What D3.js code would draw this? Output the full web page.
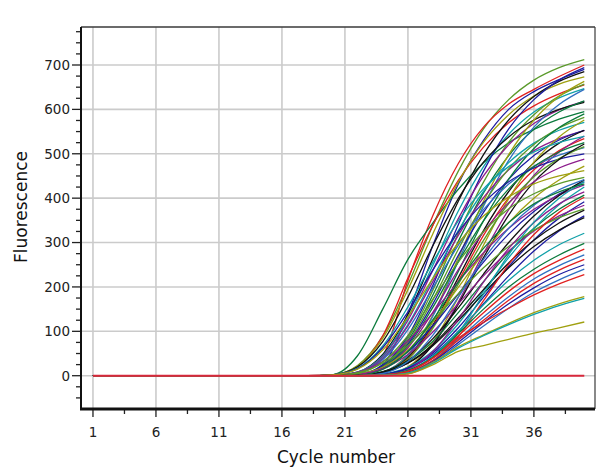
<!DOCTYPE html>
<html>
<head>
<meta charset="utf-8">
<script src="https://cdn.jsdelivr.net/npm/d3@7"></script>
<style>
  body { margin: 0; background: #fff; }
  svg { display: block; font-family: "DejaVu Sans", sans-serif; }
</style>
</head>
<body>
<svg width="598" height="467"></svg>
<script>
var svg = d3.select("svg"),
    width = +svg.attr("width"),
    height = +svg.attr("height");

var cycles = [20, 22, 24, 26, 28, 30, 32, 34, 36, 38, 40];
// all wells sit at zero before this
var baselineCycles = [1, 18];

// fluorescence per well, one row per curve (values at `cycles`)
var curves = [
  [2, 23, 89, 205, 340, 461, 556, 622, 666, 694, 712],
  [0, 6, 45, 215, 362, 478, 560, 612, 645, 674, 700],
  [0, 2, 25, 140, 295, 432, 530, 600, 640, 667, 690],
  [2, 45, 150, 262, 345, 420, 480, 525, 555, 578, 595],
  [1, 20, 90, 220, 340, 440, 515, 570, 608, 635, 655],
  [2, 21, 84, 194, 321, 436, 526, 588, 630, 657, 673],
  [0, 8, 48, 138, 265, 393, 498, 576, 629, 663, 685],
  [0, 8, 45, 131, 250, 371, 471, 544, 594, 626, 647],
  [0, 2, 21, 84, 194, 321, 436, 526, 588, 630, 657],
  [0, 2, 23, 89, 205, 340, 461, 556, 622, 666, 694],
  [0, 7, 43, 125, 239, 354, 450, 520, 568, 599, 618],
  [2, 20, 77, 177, 294, 399, 481, 538, 576, 600, 616],
  [0, 2, 20, 79, 183, 303, 412, 496, 555, 594, 619],
  [0, 0, 8, 48, 138, 265, 393, 498, 576, 629, 663],
  [0, 0, 8, 46, 135, 258, 382, 485, 560, 611, 645],
  [0, 7, 40, 115, 221, 327, 415, 480, 524, 553, 571],
  [0, 7, 38, 112, 213, 316, 401, 464, 507, 534, 552],
  [0, 2, 19, 75, 172, 285, 387, 466, 521, 558, 582],
  [0, 2, 18, 71, 163, 271, 368, 443, 496, 531, 553],
  [0, 0, 7, 42, 123, 235, 349, 443, 512, 559, 590],
  [0, 0, 7, 40, 115, 221, 327, 415, 480, 524, 553],
  [0, 0, 7, 38, 112, 213, 316, 401, 464, 507, 534],
  [0, 0, 2, 20, 77, 177, 294, 399, 481, 538, 576],
  [0, 0, 2, 18, 72, 166, 275, 374, 451, 504, 540],
  [2, 17, 67, 155, 257, 349, 421, 471, 504, 525, 539],
  [0, 6, 36, 104, 199, 294, 374, 432, 472, 497, 514],
  [0, 2, 17, 67, 155, 257, 349, 421, 471, 504, 525],
  [2, 16, 63, 144, 239, 324, 390, 437, 468, 488, 500],
  [0, 0, 6, 37, 108, 206, 305, 388, 448, 489, 516],
  [0, 0, 2, 18, 70, 161, 266, 362, 436, 487, 522],
  [0, 2, 16, 63, 144, 239, 324, 390, 437, 468, 488],
  [0, 4, 18, 54, 113, 184, 256, 319, 370, 409, 437],
  [0, 4, 19, 58, 122, 199, 276, 345, 400, 441, 472],
  [1, 8, 32, 78, 142, 212, 277, 332, 375, 407, 430],
  [0, 1, 9, 34, 84, 153, 229, 300, 360, 406, 441],
  [0, 1, 8, 32, 78, 142, 212, 277, 332, 375, 407],
  [0, 0, 4, 19, 56, 117, 191, 266, 332, 385, 425],
  [0, 0, 3, 17, 52, 108, 177, 246, 306, 355, 392],
  [0, 3, 16, 48, 99, 162, 225, 281, 326, 360, 384],
  [0, 1, 8, 29, 71, 130, 194, 254, 305, 344, 373],
  [0, 0, 3, 16, 48, 99, 162, 225, 281, 326, 360],
  [1, 7, 28, 68, 124, 185, 243, 291, 328, 356, 376],
  [0, 1, 7, 28, 68, 124, 185, 243, 291, 328, 356],
  [0, 0, 1, 14, 55, 127, 211, 287, 345, 387, 414],
  [0, 0, 0, 6, 33, 96, 184, 273, 346, 400, 437],
  [0, 0, 0, 5, 30, 88, 169, 251, 318, 368, 402],
  [0, 0, 5, 32, 92, 177, 262, 332, 384, 419, 442],
  [0, 5, 31, 90, 173, 256, 325, 376, 410, 433, 447],
  [0, 1, 14, 55, 127, 211, 287, 345, 387, 414, 432],
  [2, 15, 58, 133, 220, 299, 360, 403, 432, 450, 462],
  [0, 0, 2, 12, 45, 100, 160, 215, 260, 295, 321],
  [0, 0, 2, 12, 42, 95, 150, 200, 240, 272, 298],
  [0, 0, 2, 10, 40, 90, 142, 190, 230, 260, 285],
  [0, 0, 1, 8, 35, 82, 132, 178, 218, 248, 272],
  [0, 0, 1, 8, 35, 80, 125, 170, 208, 238, 262],
  [0, 0, 1, 7, 32, 75, 120, 162, 198, 228, 250],
  [0, 0, 1, 6, 30, 70, 112, 152, 188, 216, 240],
  [0, 0, 1, 10, 40, 85, 120, 152, 182, 207, 228],
  [0, 0, 1, 6, 30, 65, 92, 118, 142, 162, 178],
  [0, 0, 1, 6, 28, 62, 90, 115, 138, 158, 174],
  [0, 0, 0, 4, 25, 55, 68, 82, 96, 108, 121]
];

// the software's well colours
var palette = ["#5a9a2a", "#e02020", "#1c1ca0", "#10a0a8", "#111111",
               "#a0a010", "#8c1c8c", "#0a7a3c", "#2f6fc0"];
var curveColor = [0, 1, 2, 7, 1, 5, 4, 3, 0, 2, 6, 4, 7, 5, 8,
                  3, 6, 0, 2, 7, 4, 1, 5, 6, 3, 8, 7, 2, 0, 4, 6,
                  2, 5, 6, 4, 7, 3, 2, 6, 4, 2, 0, 4, 6, 3, 1, 8, 0, 7, 5,
                  3, 7, 1, 8, 1, 2, 8, 1, 5, 3, 5];

// no-template control, flat at zero
var ntcCycles = [1, 40];
var ntcValues = [0, 0];

var xTicks = [1, 6, 11, 16, 21, 26, 31, 36];
var xMinor = [3.5, 8.5, 13.5, 18.5, 23.5, 28.5, 33.5, 38.5];
var yTicks = [0, 100, 200, 300, 400, 500, 600, 700];
var yMinor = d3.range(-50, 790, 25).filter(function(v) { return v % 100 != 0; });

// plot box (note: `top` is taken by window, so prefix these)
var pLeft = 81, pRight = 595, pTop = 27, pBottom = 409;

var x = d3.scaleLinear().domain([0.05, 40.85]).range([pLeft, pRight]);
var y = d3.scaleLinear().domain([-75, 785.6]).range([pBottom, pTop]);

// grid
var grid = svg.append("g").attr("class", "grid");
grid.selectAll("line.v")
    .data(xTicks)
    .enter().append("line")
    .attr("class", "v")
    .attr("x1", function(d) { return x(d); })
    .attr("x2", function(d) { return x(d); })
    .attr("y1", pTop)
    .attr("y2", pBottom)
    .attr("stroke", "#cbcbcb")
    .attr("stroke-width", 1.6);
grid.selectAll("line.h")
    .data(yTicks)
    .enter().append("line")
    .attr("class", "h")
    .attr("x1", pLeft)
    .attr("x2", pRight)
    .attr("y1", function(d) { return y(d); })
    .attr("y2", function(d) { return y(d); })
    .attr("stroke", "#cbcbcb")
    .attr("stroke-width", 1.6);

// build the points of each curve
function toPoints(row) {
    var pts = baselineCycles.map(function(c) { return [c, 0]; });
    row.forEach(function(v, i) { pts.push([cycles[i], v]); });
    return pts;
}

var line = d3.line()
    .x(function(d) { return x(d[0]); })
    .y(function(d) { return y(d[1]); })
    .curve(d3.curveMonotoneX);

svg.append("g")
    .attr("class", "curves")
    .selectAll("path")
    .data(curves)
    .enter().append("path")
    .attr("d", function(d) { return line(toPoints(d)); })
    .attr("fill", "none")
    .attr("stroke", function(d, i) { return palette[curveColor[i]]; })
    .attr("stroke-width", 1.3);

// NTC on top
svg.append("path")
    .attr("d", line(ntcCycles.map(function(c, i) { return [c, ntcValues[i]]; })))
    .attr("fill", "none")
    .attr("stroke", "#d8283c")
    .attr("stroke-width", 2);

// frame
svg.append("line")
    .attr("x1", pLeft).attr("x2", pRight).attr("y1", pTop).attr("y2", pTop)
    .attr("stroke", "#3a3a3a").attr("stroke-width", 1.5);
svg.append("line")
    .attr("x1", pRight).attr("x2", pRight).attr("y1", pTop).attr("y2", pBottom)
    .attr("stroke", "#3a3a3a").attr("stroke-width", 1.2);

// y axis
var yAxis = svg.append("g").attr("class", "y-axis");
yAxis.selectAll("line.minor")
    .data(yMinor)
    .enter().append("line")
    .attr("class", "minor")
    .attr("x1", pLeft - 5).attr("x2", pLeft)
    .attr("y1", function(d) { return y(d); })
    .attr("y2", function(d) { return y(d); })
    .attr("stroke", "#222").attr("stroke-width", 1.3);
yAxis.selectAll("line.major")
    .data(yTicks)
    .enter().append("line")
    .attr("class", "major")
    .attr("x1", pLeft - 9).attr("x2", pLeft)
    .attr("y1", function(d) { return y(d); })
    .attr("y2", function(d) { return y(d); })
    .attr("stroke", "#222").attr("stroke-width", 1.3);
yAxis.selectAll("text")
    .data(yTicks)
    .enter().append("text")
    .attr("x", pLeft - 11)
    .attr("y", function(d) { return y(d); })
    .attr("dy", "0.36em")
    .attr("text-anchor", "end")
    .attr("font-size", 13.5)
    .attr("fill", "#222")
    .text(function(d) { return d; });
svg.append("line")
    .attr("x1", pLeft).attr("x2", pLeft).attr("y1", pTop).attr("y2", pBottom)
    .attr("stroke", "#111").attr("stroke-width", 2);

// x axis
var xAxis = svg.append("g").attr("class", "x-axis");
xAxis.selectAll("line.minor")
    .data(xMinor)
    .enter().append("line")
    .attr("class", "minor")
    .attr("x1", function(d) { return x(d); })
    .attr("x2", function(d) { return x(d); })
    .attr("y1", pBottom).attr("y2", pBottom + 5)
    .attr("stroke", "#222").attr("stroke-width", 1.3);
xAxis.selectAll("line.major")
    .data(xTicks)
    .enter().append("line")
    .attr("class", "major")
    .attr("x1", function(d) { return x(d); })
    .attr("x2", function(d) { return x(d); })
    .attr("y1", pBottom).attr("y2", pBottom + 8)
    .attr("stroke", "#222").attr("stroke-width", 1.3);
xAxis.selectAll("text")
    .data(xTicks)
    .enter().append("text")
    .attr("x", function(d) { return x(d); })
    .attr("y", 437)
    .attr("text-anchor", "middle")
    .attr("font-size", 13.5)
    .attr("fill", "#222")
    .text(function(d) { return d; });
svg.append("line")
    .attr("x1", pLeft - 1).attr("x2", pRight).attr("y1", pBottom).attr("y2", pBottom)
    .attr("stroke", "#111").attr("stroke-width", 3);

// titles
svg.append("text")
    .attr("x", 336)
    .attr("y", 463)
    .attr("text-anchor", "middle")
    .attr("font-size", 17)
    .attr("fill", "#111")
    .text("Cycle number");
svg.append("text")
    .attr("transform", "translate(27,207) rotate(-90)")
    .attr("text-anchor", "middle")
    .attr("font-size", 17)
    .attr("fill", "#111")
    .text("Fluorescence");
</script>
</body>
</html>
